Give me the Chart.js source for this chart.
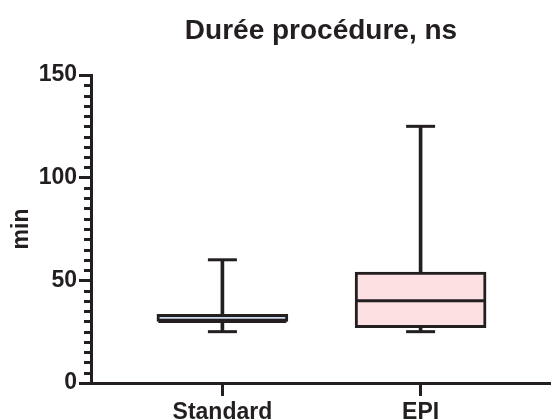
<!DOCTYPE html>
<html>
<head>
<meta charset="utf-8">
<script src="https://cdn.jsdelivr.net/npm/chart.js@4"></script>
<style>
  body { margin: 0; background: #fff; }
</style>
</head>
<body>
<canvas id="grafico" width="551" height="420"></canvas>
<script>
// Données (boîtes à moustaches)
const groupes = ['Standard', 'EPI'];
const minimum = [25, 25];
const q1 = [30, 27];
const mediane = [30, 40];
const q3 = [33.5, 54];
const maximum = [60, 125];
const couleurs = ['#cfdcef', '#fde0e1'];

const noir = '#231f20';
const police = 'Liberation Sans, Arial, sans-serif';

const pts = (vals) => vals.map((v, i) => ({ x: i, y: v }));
const intervalles = (a, b) => a.map((v, i) => ({ x: i, y: [v, b[i]] }));

// Petites graduations de l'axe Y (tous les 5)
const graduationsMineures = {
    id: 'graduationsMineures',
    afterDraw(chart) {
        const y = chart.scales.y;
        const c = chart.ctx;
        c.save();
        c.strokeStyle = noir;
        c.lineWidth = 3;
        for (let v = y.min; v <= y.max; v += 5) {
            if (v % 50 === 0) continue;
            const py = Math.round(y.getPixelForValue(v)) + 0.5;
            c.beginPath();
            c.moveTo(chart.chartArea.left - 7, py);
            c.lineTo(chart.chartArea.left, py);
            c.stroke();
        }
        c.restore();
    }
};

const ctx = document.getElementById('grafico').getContext('2d');

new Chart(ctx, {
    data: {
        datasets: [
            {   // boîte Q1-Q3
                type: 'bar',
                data: intervalles(q1, q3),
                backgroundColor: couleurs,
                borderColor: noir,
                borderWidth: 3,
                borderSkipped: false,
                barThickness: 131,
                grouped: false,
                order: 2
            },
            {   // moustache haute
                type: 'bar',
                data: intervalles(q3, maximum),
                backgroundColor: noir,
                borderWidth: 0,
                barThickness: 3,
                grouped: false,
                order: 3
            },
            {   // moustache basse
                type: 'bar',
                data: intervalles(minimum, q1),
                backgroundColor: noir,
                borderWidth: 0,
                barThickness: 3,
                grouped: false,
                order: 3
            },
            {   // médiane
                type: 'scatter',
                data: pts(mediane),
                pointStyle: 'line',
                radius: 64,
                borderColor: noir,
                borderWidth: 3,
                order: 0
            },
            {   // extrémités des moustaches
                type: 'scatter',
                data: pts(minimum).concat(pts(maximum)),
                pointStyle: 'line',
                radius: 14.5,
                borderColor: noir,
                borderWidth: 3,
                order: 0
            }
        ]
    },
    options: {
        responsive: false,
        animation: false,
        events: [],
        layout: { padding: 0, autoPadding: false },
        plugins: {
            legend: { display: false },
            tooltip: { enabled: false },
            title: {
                display: true,
                text: 'Durée procédure, ns',
                fullSize: false,
                color: noir,
                font: { family: police, size: 28, weight: 'bold' },
                padding: { top: 14, bottom: 27.4 }
            }
        },
        scales: {
            x: {
                type: 'linear',
                min: -0.663,
                max: 1.658,
                offset: false,
                afterBuildTicks: (s) => { s.ticks = groupes.map((g, i) => ({ value: i })); },
                afterFit: (s) => { s.height = 37; },
                ticks: {
                    callback: (v) => groupes[v],
                    color: noir,
                    font: { family: police, size: 23, weight: 'bold' },
                    padding: 3,
                    maxRotation: 0
                },
                grid: { offset: false, drawOnChartArea: false, tickLength: 13, tickWidth: 3, tickColor: noir },
                border: { color: noir, width: 3 }
            },
            y: {
                min: 0,
                max: 150,
                afterFit: (s) => { s.width = 91; },
                ticks: {
                    stepSize: 50,
                    color: noir,
                    font: { family: police, size: 23, weight: 'bold' },
                    padding: 2
                },
                grid: { drawOnChartArea: false, tickLength: 12, tickWidth: 3, tickColor: noir },
                border: { color: noir, width: 3 },
                title: {
                    display: true,
                    text: 'min',
                    color: noir,
                    font: { family: police, size: 23, weight: 'bold' },
                    padding: { top: 8, bottom: 0 }
                }
            }
        }
    },
    plugins: [graduationsMineures]
});
</script>
</body>
</html>
